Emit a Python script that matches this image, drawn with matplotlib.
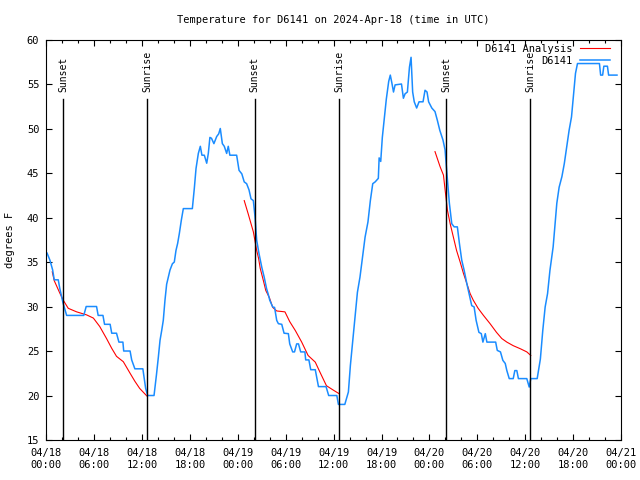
import numpy as np
import pandas as pd
import matplotlib
matplotlib.use('Agg')
import matplotlib.pyplot as plt
import matplotlib.dates as mdates

# observed temperature, hours after 2024-04-18 00:00 UTC
obs_hours = [0.1, 0.46, 0.8, 1.0, 1.5, 1.7, 1.93, 2.1, 2.55, 4.7, 5.0, 6.3, 6.5, 7.1, 7.3, 8.0,
             8.2, 8.8, 9.1, 9.6, 9.7, 10.5, 10.7, 11.1, 12.1, 12.45, 12.7, 13.5, 13.8, 14.04,
             14.25, 14.46, 14.66, 14.87, 15.08, 15.29, 15.5, 15.8, 16.04, 16.25, 16.46, 16.67,
             16.92, 17.17, 18.3, 18.55, 18.76, 19.05, 19.3, 19.5, 19.8, 20.1, 20.3, 20.5, 20.7,
             21.0, 21.35, 21.6, 21.8, 22.06, 22.3, 22.6, 22.8, 23.0, 23.85, 24.15, 24.5, 24.8,
             25.1, 25.4, 25.65, 25.94, 26.15, 26.36, 26.65, 27.0, 27.3, 27.6, 27.8, 28.0, 28.37,
             28.6, 28.87, 29.08, 29.5, 29.79, 30.33, 30.5, 30.87, 31.1, 31.37, 31.6, 31.87, 32.4,
             32.5, 32.9, 33.13, 33.7, 34.1, 35.05, 35.38, 36.4, 36.6, 37.4, 37.85, 38.1, 38.4,
             38.7, 38.98, 39.3, 39.6, 39.94, 40.3, 40.6, 40.9, 41.2, 41.6, 41.7, 41.9, 42.1,
             42.3, 42.6, 42.9, 43.1, 43.3, 43.5, 43.7, 44.5, 44.74, 44.95, 45.24, 45.5, 45.7,
             45.9, 46.1, 46.4, 46.7, 47.2, 47.45, 47.7, 47.9, 48.3, 48.7, 49.0, 49.3, 49.7,
             49.96, 50.1, 50.26, 50.5, 50.8, 51.1, 51.5, 51.76, 52.05, 52.35, 52.68, 52.97, 53.3,
             53.6, 53.85, 54.2, 54.5, 54.7, 55.0, 55.2, 56.3, 56.5, 56.9, 57.2, 57.5, 57.7, 58.0,
             58.5, 58.7, 58.95, 59.15, 60.2, 60.5, 60.7, 61.5, 61.9, 62.2, 62.5, 62.8, 63.1,
             63.5, 63.75, 63.96, 64.25, 64.6, 64.9, 65.2, 65.5, 65.8, 66.1, 66.3, 66.55, 69.3,
             69.45, 69.7, 69.85, 70.3, 70.45, 71.5]
obs_temp = [36.0, 35.2, 34.1, 33.0, 33.0, 32.0, 31.1, 30.4, 29.0, 29.0, 30.0, 30.0, 29.0, 29.0,
            28.0, 28.0, 27.0, 27.0, 26.0, 26.0, 25.0, 25.0, 24.0, 23.0, 23.0, 20.8, 20.0, 20.0,
            22.3, 24.3, 26.2, 27.3, 28.45, 30.7, 32.5, 33.3, 34.1, 34.8, 35.0, 36.3, 37.1, 38.2,
            39.7, 41.0, 41.0, 43.3, 45.5, 47.2, 48.0, 47.0, 47.0, 46.1, 47.2, 49.0, 48.9, 48.3,
            49.1, 49.4, 50.0, 48.3, 48.0, 47.2, 48.0, 47.0, 47.0, 45.3, 44.9, 44.0, 43.8, 43.1,
            42.1, 41.9, 40.1, 37.45, 35.95, 34.4, 33.3, 32.0, 31.4, 30.7, 29.94, 29.9, 28.44,
            28.07, 28.0, 27.0, 26.95, 25.8, 24.9, 24.9, 25.8, 25.8, 24.9, 24.9, 24.0, 24.0, 22.9,
            22.9, 21.0, 21.0, 20.0, 20.0, 19.0, 19.0, 20.4, 23.4, 26.2, 29.0, 31.6, 33.3, 35.4,
            37.8, 39.5, 41.9, 43.8, 44.0, 44.4, 46.7, 46.3, 49.0, 50.7, 53.3, 55.3, 56.0, 55.1,
            54.1, 54.9, 55.0, 53.4, 53.9, 54.1, 56.9, 58.0, 54.1, 53.0, 52.3, 53.0, 53.0, 54.3,
            54.1, 53.0, 52.3, 51.9, 50.9, 49.8, 48.7, 47.6, 46.0, 44.2, 41.6, 39.3, 38.95, 38.95,
            37.07, 35.2, 34.07, 32.6, 31.45, 30.1, 29.95, 28.45, 27.1, 26.95, 26.0, 26.95, 26.0,
            26.0, 25.07, 24.9, 23.95, 23.6, 22.8, 21.9, 21.9, 22.8, 22.8, 21.9, 21.9, 20.95,
            21.9, 21.9, 24.1, 27.3, 29.95, 31.45, 34.07, 36.7, 39.3, 41.6, 43.4, 44.6, 46.07,
            47.9, 49.8, 51.3, 54.3, 56.2, 57.3, 57.3, 56.0, 56.0, 57.0, 57.0, 56.0, 56.0]

# analysis runs (three overnight pieces)
ana1_hours = [0.75, 1.0, 1.7, 2.1, 2.75, 3.8, 5.05, 5.9, 6.7, 7.55, 8.2, 8.8, 9.65, 10.5, 11.1,
              11.7, 12.6]
ana1_temp = [33.9, 32.9, 31.5, 30.75, 29.8, 29.4, 29.06, 28.7, 27.75, 26.4, 25.3, 24.4, 23.8,
             22.5, 21.6, 20.8, 19.95]
ana2_hours = [24.8, 25.3, 25.94, 26.36, 26.6, 26.8, 27.2, 27.5, 27.95, 28.37, 28.87, 29.9, 30.5,
              31.2, 32.0, 32.8, 33.7, 34.3, 35.1, 35.97, 36.7]
ana2_temp = [41.9, 40.4, 38.4, 36.3, 35.4, 34.3, 32.9, 31.8, 31.0, 29.9, 29.5, 29.4, 28.3, 27.3,
             26.0, 24.5, 23.75, 22.6, 21.1, 20.6, 20.2]
ana3_hours = [48.7, 49.34, 49.76, 49.97, 50.26, 50.6, 51.0, 51.4, 51.85, 52.27, 52.68, 53.1,
              53.5, 54.1, 54.77, 55.6, 56.4, 57.07, 57.7, 58.5, 59.4, 60.2, 60.7]
ana3_temp = [47.4, 45.7, 44.76, 43.07, 40.8, 39.3, 37.8, 36.3, 35.0, 33.7, 32.6, 31.45, 30.7,
             29.8, 29.0, 28.07, 27.1, 26.4, 26.0, 25.6, 25.25, 24.9, 24.5]

sunset_hours = [2.13, 26.1, 50.13]
sunrise_hours = [12.66, 36.72, 60.65]

start = pd.Timestamp('2024-04-18 00:00')


def to_time(hours):
    return start + pd.to_timedelta(hours, unit='h')


plt.rcParams['font.family'] = 'DejaVu Sans Mono'
plt.rcParams['font.size'] = 7

fig = plt.figure(figsize=(6.4, 4.8), dpi=100)
ax = fig.add_axes([0.0723, 0.0833, 0.8980, 0.8344])

blue = '#1a8cff'
ax.plot(to_time(ana1_hours), ana1_temp, color='red', lw=0.8, label='D6141 Analysis')
ax.plot(to_time(ana2_hours), ana2_temp, color='red', lw=0.8)
ax.plot(to_time(ana3_hours), ana3_temp, color='red', lw=0.8)
ax.plot(to_time(obs_hours), obs_temp, color=blue, lw=1.1, label='D6141')

# sunrise / sunset markers
for hrs, name in [(sunset_hours, 'Sunset'), (sunrise_hours, 'Sunrise')]:
    for t in to_time(hrs):
        ax.plot([t, t], [15, 53.3], color='black', lw=1.0)
        ax.text(t, 54.1, name, rotation=90, ha='center', va='bottom')

ax.set_xlim(start, start + pd.Timedelta(hours=72))
ax.set_ylim(15, 60)
ax.set_yticks(np.arange(15, 61, 5))
ax.xaxis.set_major_locator(mdates.HourLocator(byhour=[0, 6, 12, 18]))
ax.xaxis.set_minor_locator(mdates.HourLocator(byhour=range(0, 24, 2)))
ax.xaxis.set_major_formatter(mdates.DateFormatter('%m/%d\n%H:%M'))
ax.tick_params(which='both', direction='in', top=True, right=True, width=0.8)
ax.tick_params(which='major', length=4.3, labelsize=7.5)
ax.tick_params(axis='x', which='major', pad=6)
ax.tick_params(axis='y', which='major', pad=5)
ax.tick_params(which='minor', length=2.2)
for s in ax.spines.values():
    s.set_linewidth(0.8)

ax.legend(loc='upper right', bbox_to_anchor=(0.981, 0.99), frameon=False, markerfirst=False,
          handlelength=2.9, handletextpad=0.7, labelspacing=0.25, borderpad=0,
          borderaxespad=0, fontsize=7.5)

fig.text(0.521, 0.958, 'Temperature for D6141 on 2024-Apr-18 (time in UTC)',
         ha='center', va='center', fontsize=7.5)
fig.text(0.016, 0.5, 'degrees F', rotation=90, ha='center', va='center', fontsize=7.5)

fig.savefig('out.png', dpi=100)
